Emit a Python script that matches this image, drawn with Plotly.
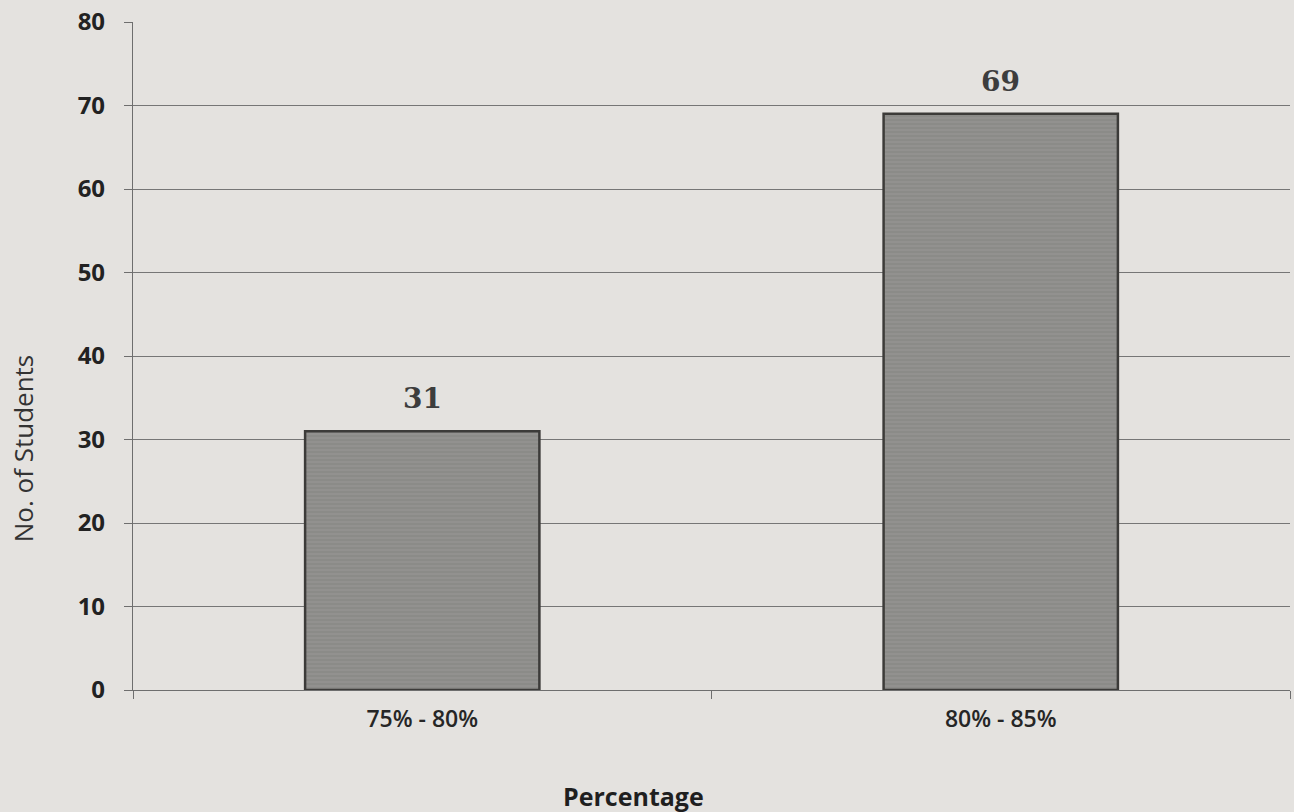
import plotly.graph_objects as go

categories = ["75% - 80%", "80% - 85%"]
students = [31, 69]
y_ticks = [0, 10, 20, 30, 40, 50, 60, 70, 80]

fig = go.Figure()
fig.add_trace(go.Bar(
    x=categories,
    y=students,
    width=0.405,
    marker=dict(
        color="#8f8e8c",
        line=dict(color="#3c3b39", width=2.5),
        pattern=dict(shape="-", size=4, solidity=0.25, fgcolor="#787674", bgcolor="#92918f"),
    ),
    hoverinfo="x+y",
))

for cat, val in zip(categories, students):
    fig.add_annotation(
        x=cat, y=val, xref="x", yref="y",
        text=f"<b>{val}</b>", showarrow=False,
        yanchor="bottom", yshift=14,
        font=dict(family="DejaVu Serif", size=28, color="#3d3d3d"),
    )

# axis titles placed as in the reference (offset from plot centre)
fig.add_annotation(
    x=-0.095, y=0.362, xref="paper", yref="paper", xanchor="center", yanchor="middle",
    text="No. of Students", textangle=-90, showarrow=False,
    font=dict(family="Open Sans", size=26, color="#333333"),
)
fig.add_annotation(
    x=0.433, y=-0.159, xref="paper", yref="paper", xanchor="center", yanchor="middle",
    text="<b>Percentage</b>", showarrow=False,
    font=dict(family="Open Sans", size=25, color="#1f1f1f"),
)

fig.update_layout(
    width=1294, height=812,
    margin=dict(l=133, r=4, t=19, b=122),
    paper_bgcolor="#e4e2df",
    plot_bgcolor="#e4e2df",
    showlegend=False,
    font=dict(family="Open Sans", color="#262626"),
    xaxis=dict(
        tickfont=dict(size=23, color="#262626", weight=600),
        showline=True, linecolor="#6e6e6e", linewidth=1.2,
        ticks="outside", tickson="boundaries", ticklen=8, tickcolor="#6e6e6e",
        showgrid=False,
        ticklabelstandoff=8,
    ),
    yaxis=dict(
        range=[0, 80],
        tickvals=y_ticks,
        ticktext=[f"<b>{v}</b>" for v in y_ticks],
        tickfont=dict(size=24, color="#222222"),
        showline=True, linecolor="#6e6e6e", linewidth=1.2,
        ticks="outside", ticklen=8, tickcolor="#6e6e6e",
        showgrid=True, gridcolor="#767676", gridwidth=1.2,
        zeroline=False,
        ticklabelstandoff=14,
    ),
)

fig.write_html("out.html", config={"displayModeBar": False},
               post_script="document.body.style.margin='0';")
